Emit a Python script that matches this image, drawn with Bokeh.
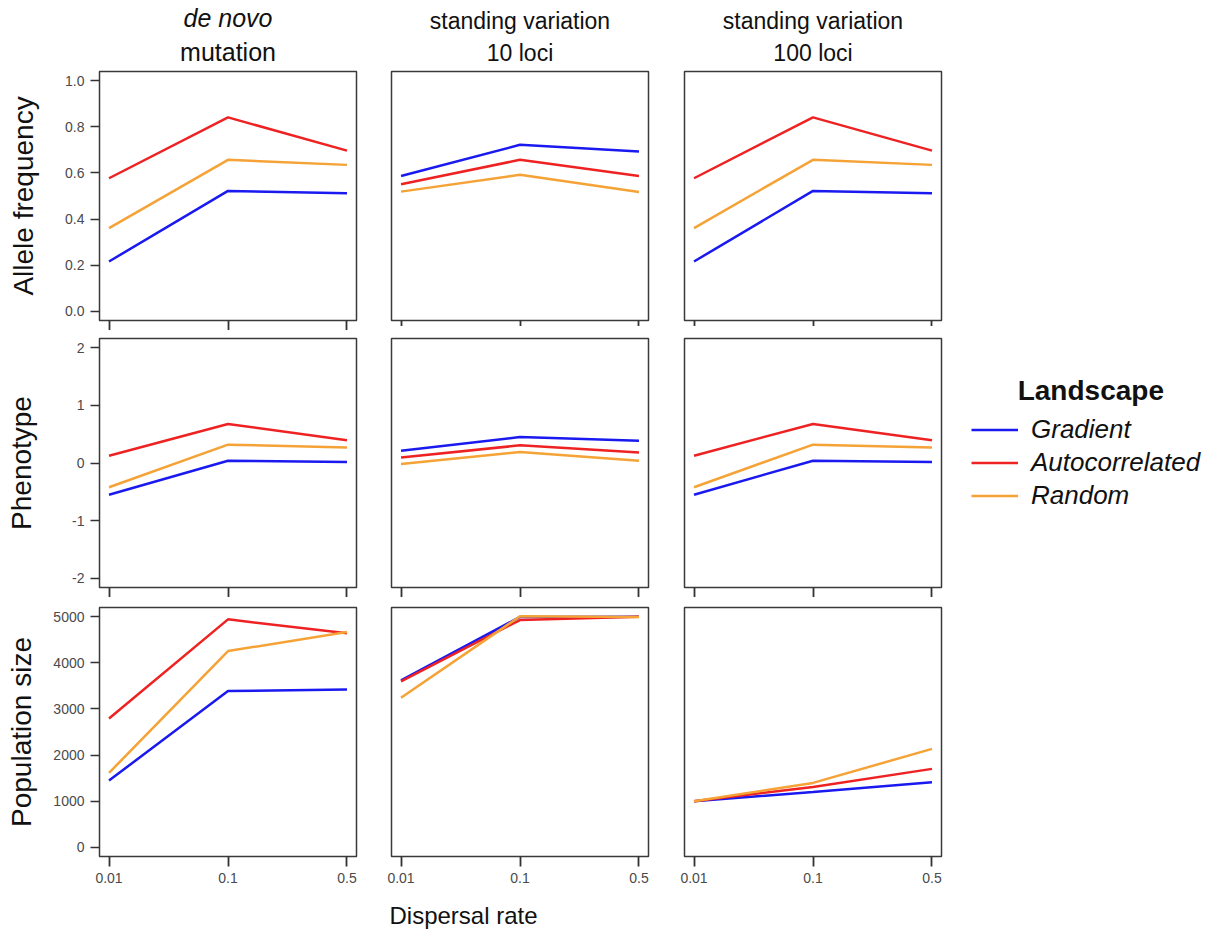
from bokeh.plotting import figure
from bokeh.layouts import gridplot
from bokeh.models import (FixedTicker, Range1d, Title, Legend, LegendItem,
                          CustomLabelingPolicy)
from bokeh.embed import file_html
from bokeh.resources import INLINE

# ---------------- data ----------------
dispersal_rates = ["0.01", "0.1", "0.5"]
x_pos = [1, 2, 3]

col_title_top = ["de novo", "standing variation", "standing variation"]
col_title_bottom = ["mutation", "10 loci", "100 loci"]
row_labels = ["Allele frequency", "Phenotype", "Population size"]
landscapes = ["Gradient", "Autocorrelated", "Random"]
legend_title = "Landscape"

# Allele frequency
allele_denovo_gradient = [0.216, 0.522, 0.512]
allele_denovo_autocorr = [0.577, 0.841, 0.697]
allele_denovo_random = [0.361, 0.657, 0.635]
allele_sv10_gradient = [0.587, 0.722, 0.693]
allele_sv10_autocorr = [0.551, 0.657, 0.587]
allele_sv10_random = [0.519, 0.592, 0.517]
allele_sv100_gradient = [0.216, 0.522, 0.512]
allele_sv100_autocorr = [0.577, 0.841, 0.697]
allele_sv100_random = [0.361, 0.657, 0.635]

# Phenotype
pheno_denovo_gradient = [-0.55, 0.04, 0.017]
pheno_denovo_autocorr = [0.127, 0.677, 0.393]
pheno_denovo_random = [-0.42, 0.318, 0.271]
pheno_sv10_gradient = [0.213, 0.451, 0.387]
pheno_sv10_autocorr = [0.097, 0.306, 0.184]
pheno_sv10_random = [-0.017, 0.191, 0.04]
pheno_sv100_gradient = [-0.55, 0.04, 0.017]
pheno_sv100_autocorr = [0.127, 0.677, 0.393]
pheno_sv100_random = [-0.42, 0.318, 0.271]

# Population size
pop_denovo_gradient = [1448, 3387, 3424]
pop_denovo_autocorr = [2794, 4943, 4640]
pop_denovo_random = [1613, 4255, 4668]
pop_sv10_gradient = [3619, 4995, 5000]
pop_sv10_autocorr = [3600, 4928, 5000]
pop_sv10_random = [3241, 5010, 4995]
pop_sv100_gradient = [999, 1201, 1411]
pop_sv100_autocorr = [1000, 1309, 1700]
pop_sv100_random = [1000, 1396, 2134]

allele_ticks = [0.0, 0.2, 0.4, 0.6, 0.8, 1.0]
pheno_ticks = [-2, -1, 0, 1, 2]
pop_ticks = [0, 1000, 2000, 3000, 4000, 5000]

# ---------------- styling ----------------
FONT = "Liberation Sans"
COLORS = {"Gradient": "#1a1af0", "Autocorrelated": "#ee2222", "Random": "#f5a236"}

panels = [
    [
        (allele_denovo_gradient, allele_denovo_autocorr, allele_denovo_random),
        (allele_sv10_gradient, allele_sv10_autocorr, allele_sv10_random),
        (allele_sv100_gradient, allele_sv100_autocorr, allele_sv100_random),
    ],
    [
        (pheno_denovo_gradient, pheno_denovo_autocorr, pheno_denovo_random),
        (pheno_sv10_gradient, pheno_sv10_autocorr, pheno_sv10_random),
        (pheno_sv100_gradient, pheno_sv100_autocorr, pheno_sv100_random),
    ],
    [
        (pop_denovo_gradient, pop_denovo_autocorr, pop_denovo_random),
        (pop_sv10_gradient, pop_sv10_autocorr, pop_sv10_random),
        (pop_sv100_gradient, pop_sv100_autocorr, pop_sv100_random),
    ],
]
row_ticks = [allele_ticks, pheno_ticks, pop_ticks]
row_ranges = [(-0.04, 1.04), (-2.16, 2.16), (-200, 5200)]
row_tick_fmt = [lambda v: f"{v:.1f}", lambda v: f"{v:d}", lambda v: f"{v:d}"]
row_label_standoff = [23, 32, 13]

borders_top = [63, 8, 10]
borders_bottom = [10, 9, 76]
borders_left = [89, 18, 18]
borders_right = [17, 18, 6]

no_labels = CustomLabelingPolicy(code="""
    for (const i of Array.from(indices)) { indices.unset(i) }
    return indices
""")

grid = []
legend_fig = None
legend_renderers = {}
for r in range(3):
    grid_row = []
    for c in range(3):
        right = borders_right[c]
        if r == 1 and c == 2:
            right = 256
        p = figure(
            title=None,
            frame_width=257, frame_height=249,
            x_range=Range1d(0.92, 3.08), y_range=Range1d(*row_ranges[r]),
            output_backend="svg", toolbar_location=None,
            y_axis_location="left" if c == 0 else None,
            min_border_top=borders_top[r], min_border_bottom=borders_bottom[r],
            min_border_left=borders_left[c], min_border_right=right,
            background_fill_color="white", border_fill_color="white",
        )
        p.grid.visible = False
        p.outline_line_color = "#3a3a3a"
        p.outline_line_width = 1.5

        xa = p.xaxis[0]
        xa.ticker = FixedTicker(ticks=x_pos)
        xa.major_label_overrides = {x: lab for x, lab in zip(x_pos, dispersal_rates)}
        xa.axis_line_color = None
        xa.major_tick_in = 0
        xa.major_tick_out = 10
        xa.minor_tick_line_color = None
        xa.major_tick_line_color = "#333333"
        xa.major_tick_line_width = 1.8
        if r < 2:
            xa.major_label_text_font_size = "0px"
            xa.major_label_standoff = 0
            xa.major_label_policy = no_labels
        else:
            xa.major_label_text_font_size = "14px"
            xa.major_label_text_font = FONT
            xa.major_label_text_color = "#4a4a4a"
            xa.major_label_standoff = 6

        if c == 0:
            ya = p.yaxis[0]
            ya.ticker = FixedTicker(ticks=row_ticks[r])
            ya.major_label_overrides = {t: row_tick_fmt[r](t) for t in row_ticks[r]}
            ya.axis_line_color = None
            ya.major_tick_in = 0
            ya.major_tick_out = 9
            ya.minor_tick_line_color = None
            ya.major_tick_line_color = "#333333"
            ya.major_tick_line_width = 1.5
            ya.major_label_text_font_size = "14px"
            ya.major_label_text_font = FONT
            ya.major_label_text_color = "#4a4a4a"
            ya.major_label_standoff = 6
            ya.axis_label = row_labels[r]
            ya.axis_label_text_font = FONT
            ya.axis_label_text_font_size = "28px"
            ya.axis_label_text_font_style = "normal"
            ya.axis_label_text_color = "#111111"
            ya.axis_label_standoff = row_label_standoff[r]

        if r == 0:
            fs = "25px" if c == 0 else "23px"
            # closest to the frame first
            p.add_layout(Title(text=col_title_bottom[c], align="center", text_font=FONT,
                               text_font_size=fs, text_font_style="normal",
                               text_color="#111111", standoff=12), "above")
            p.add_layout(Title(text=col_title_top[c], align="center", text_font=FONT,
                               text_font_size=fs,
                               text_font_style="italic" if c == 0 else "normal",
                               text_color="#111111", standoff=-5), "above")

        if r == 2 and c == 1:
            p.add_layout(Title(text="Dispersal rate", align="left", offset=-2,
                               text_font=FONT, text_font_size="24px",
                               text_font_style="normal", text_color="#111111",
                               standoff=29), "below")

        rends = []
        for name, vals in zip(landscapes, panels[r][c]):
            rends.append(p.line(x_pos, vals, line_color=COLORS[name], line_width=2.5))
        if r == 1 and c == 2:
            legend_fig = p
            legend_renderers = dict(zip(landscapes, rends))
        grid_row.append(p)
    grid.append(grid_row)

# ---------------- legend ----------------
items = [LegendItem(label=name, renderers=[legend_renderers[name]]) for name in landscapes]
legend = Legend(items=items, location=(30, 76), padding=0, margin=15,
                title="\u00a0" * 6 + legend_title,
                title_text_font=FONT, title_text_font_size="28px",
                title_text_font_style="bold", title_text_color="#111111",
                title_standoff=7,
                border_line_color=None, background_fill_alpha=0,
                label_text_font=FONT, label_text_font_size="26px",
                label_text_font_style="italic", label_text_color="#111111",
                glyph_width=47, glyph_height=25, label_height=25,
                label_standoff=13, spacing=2)
legend_fig.add_layout(legend, "right")

g = gridplot(grid, toolbar_location=None)
g.margin = (4, 0, 0, 3)
open("out.html", "w").write(file_html(g, INLINE))
